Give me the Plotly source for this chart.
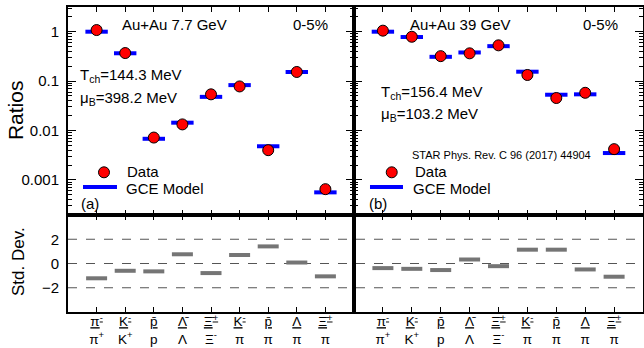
import plotly.graph_objects as go
from plotly.subplots import make_subplots

labels = [
    "<u>π<sup>-</sup></u><br>π<sup>+</sup>",
    "<u>K<sup>-</sup></u><br>K<sup>+</sup>",
    "<u>p\u0304</u><br>p",
    "<u>\u039b\u0304</u><br>Λ",
    "<u>\u039e\u0304<sup>+</sup></u><br>Ξ<sup>-</sup>",
    "<u>K<sup>-</sup></u><br>π",
    "<u>p\u0304</u><br>π",
    "<u>Λ</u><br>π",
    "<u>\u039e\u0304<sup>+</sup></u><br>π",
]

data_77 = [1.08, 0.37, 0.0072, 0.0133, 0.054, 0.078, 0.0040, 0.153, 0.00065]
model_77 = [1.0, 0.366, 0.0068, 0.0144, 0.048, 0.083, 0.0048, 0.153, 0.00056]
data_39 = [1.05, 0.79, 0.32, 0.365, 0.53, 0.133, 0.0455, 0.058, 0.0042]
model_39 = [1.0, 0.78, 0.31, 0.38, 0.51, 0.155, 0.053, 0.054, 0.0035]
std_77 = [-1.22, -0.60, -0.65, 0.76, -0.79, 0.70, 1.41, 0.08, -1.06]
std_39 = [-0.38, -0.44, -0.54, 0.33, -0.22, 1.14, 1.14, -0.49, -1.09]

ratio_ticks = [0.001, 0.01, 0.1, 1]
ratio_ticktext = ["0.001", "0.01", "0.1", "1"]
minor_ticks = [m * 10 ** e for e in range(-4, 1) for m in range(2, 10)]
std_ticks = [-2, 0, 2]

FONT = "Liberation Sans, Arial, sans-serif"
BLUE = "#0000ff"
RED = "#ff0000"
GRAY = "#757575"

fig = make_subplots(rows=2, cols=2, column_widths=[286, 289], row_heights=[208, 97],
                    horizontal_spacing=0, vertical_spacing=0)

for col, (dat, mod, std) in enumerate([(data_77, model_77, std_77), (data_39, model_39, std_39)], start=1):
    fig.add_trace(go.Scatter(x=labels, y=mod, mode="markers", showlegend=False,
                             marker=dict(symbol="line-ew", size=16, line=dict(width=4, color=BLUE))),
                  row=1, col=col)
    fig.add_trace(go.Scatter(x=labels, y=dat, mode="markers", showlegend=False,
                             marker=dict(symbol="circle", size=11, color=RED, line=dict(width=1, color="black"))),
                  row=1, col=col)
    fig.add_trace(go.Scatter(x=labels, y=std, mode="markers", showlegend=False,
                             marker=dict(symbol="line-ew", size=15, line=dict(width=4, color=GRAY))),
                  row=2, col=col)

xcommon = dict(type="category", range=[-1, 9], showline=True, linewidth=2, linecolor="black", mirror="ticks",
               ticks="inside", ticklen=5, tickwidth=1, tickcolor="black", showgrid=False, zeroline=False,
               automargin=False, ticklabelstandoff=-4, tickfont=dict(family=FONT, size=13.5, color="black"))
for r in (1, 2):
    for c in (1, 2):
        fig.update_xaxes(xcommon, row=r, col=c)
        fig.update_xaxes(showticklabels=(r == 2), row=r, col=c)

ycommon_top = dict(type="log", range=[-3.71, 0.5], showline=True, linewidth=2, linecolor="black", mirror="ticks",
                   ticks="inside", ticklen=8, tickwidth=1, tickcolor="black", showgrid=False, zeroline=False,
                   tickmode="array", tickvals=ratio_ticks, ticktext=ratio_ticktext, automargin=False,
                   minor=dict(ticks="inside", ticklen=4, tickwidth=1, tickcolor="black", tickmode="array",
                              tickvals=minor_ticks, showgrid=False),
                   tickfont=dict(family=FONT, size=15, color="black"), ticklabelstandoff=4)
fig.update_yaxes(ycommon_top, row=1, col=1)
fig.update_yaxes(ycommon_top, row=1, col=2)
fig.update_yaxes(showticklabels=False, row=1, col=2)

ycommon_bot = dict(range=[-4, 4], showline=True, linewidth=2, linecolor="black", mirror=True, ticks="",
                   showgrid=False, zeroline=False, tickmode="array", tickvals=std_ticks, automargin=False,
                   tickfont=dict(family=FONT, size=15, color="black"), ticklabelstandoff=4)
fig.update_yaxes(ycommon_bot, row=2, col=1)
fig.update_yaxes(ycommon_bot, row=2, col=2)
fig.update_yaxes(showticklabels=False, row=2, col=2)

shapes = []
for v in std_ticks:
    shapes.append(dict(type="line", xref="paper", yref="y3", x0=0, x1=1, y0=v, y1=v,
                       line=dict(color="#555555", width=1.2, dash="dash"), layer="below"))

# legends (glyphs)
for cx, lx0, lx1 in [(0.0626, 0.0261, 0.0852), (0.563, 0.5252, 0.5826)]:
    shapes.append(dict(type="line", xref="paper", yref="paper", x0=lx0, x1=lx1, y0=0.410, y1=0.410,
                       line=dict(color=BLUE, width=4)))
    shapes.append(dict(type="circle", xref="paper", yref="paper", xsizemode="pixel", ysizemode="pixel",
                       xanchor=cx, yanchor=0.458, x0=-5.5, x1=5.5, y0=-5.5, y1=5.5,
                       fillcolor=RED, line=dict(color="black", width=1)))

def ann(text, x, y, size=15, xanchor="left", yanchor="middle", **kw):
    return dict(text=text, x=x, y=y, xref="paper", yref="paper", xanchor=xanchor, yanchor=yanchor,
                showarrow=False, font=dict(family=FONT, size=size, color="black"), **kw)

annotations = [
    ann("Au+Au 7.7 GeV", 0.0904, 0.944),
    ann("0-5%", 0.4557, 0.944, xanchor="right"),
    ann("T<sub>ch</sub>=144.3 MeV", 0.0174, 0.775),
    ann("μ<sub>B</sub>=398.2 MeV", 0.0174, 0.701),
    ann("(a)", 0.0191, 0.357),
    ann("Data", 0.0991, 0.460, size=15),
    ann("GCE Model", 0.0974, 0.406, size=15),
    ann("Au+Au 39 GeV", 0.5913, 0.944),
    ann("0-5%", 0.96, 0.944, xanchor="right"),
    ann("T<sub>ch</sub>=156.4 MeV", 0.5409, 0.721),
    ann("μ<sub>B</sub>=103.2 MeV", 0.5409, 0.648),
    ann("STAR Phys. Rev. C 96 (2017) 44904", 0.5948, 0.5148, size=11),
    ann("(b)", 0.52, 0.357),
    ann("Data", 0.5995, 0.460, size=15),
    ann("GCE Model", 0.5965, 0.406, size=15),
    ann("Ratios", -0.0922, 0.662, size=21, xanchor="center", textangle=-90),
    ann("Std. Dev.", -0.087, 0.167, size=17, xanchor="center", textangle=-90),
]

fig.update_layout(width=644, height=348, margin=dict(l=68, r=1, t=7, b=36, autoexpand=False),
                  paper_bgcolor="white", plot_bgcolor="white", showlegend=False,
                  shapes=shapes, annotations=annotations, font=dict(family=FONT, color="black"))

fig.write_html("out.html")
